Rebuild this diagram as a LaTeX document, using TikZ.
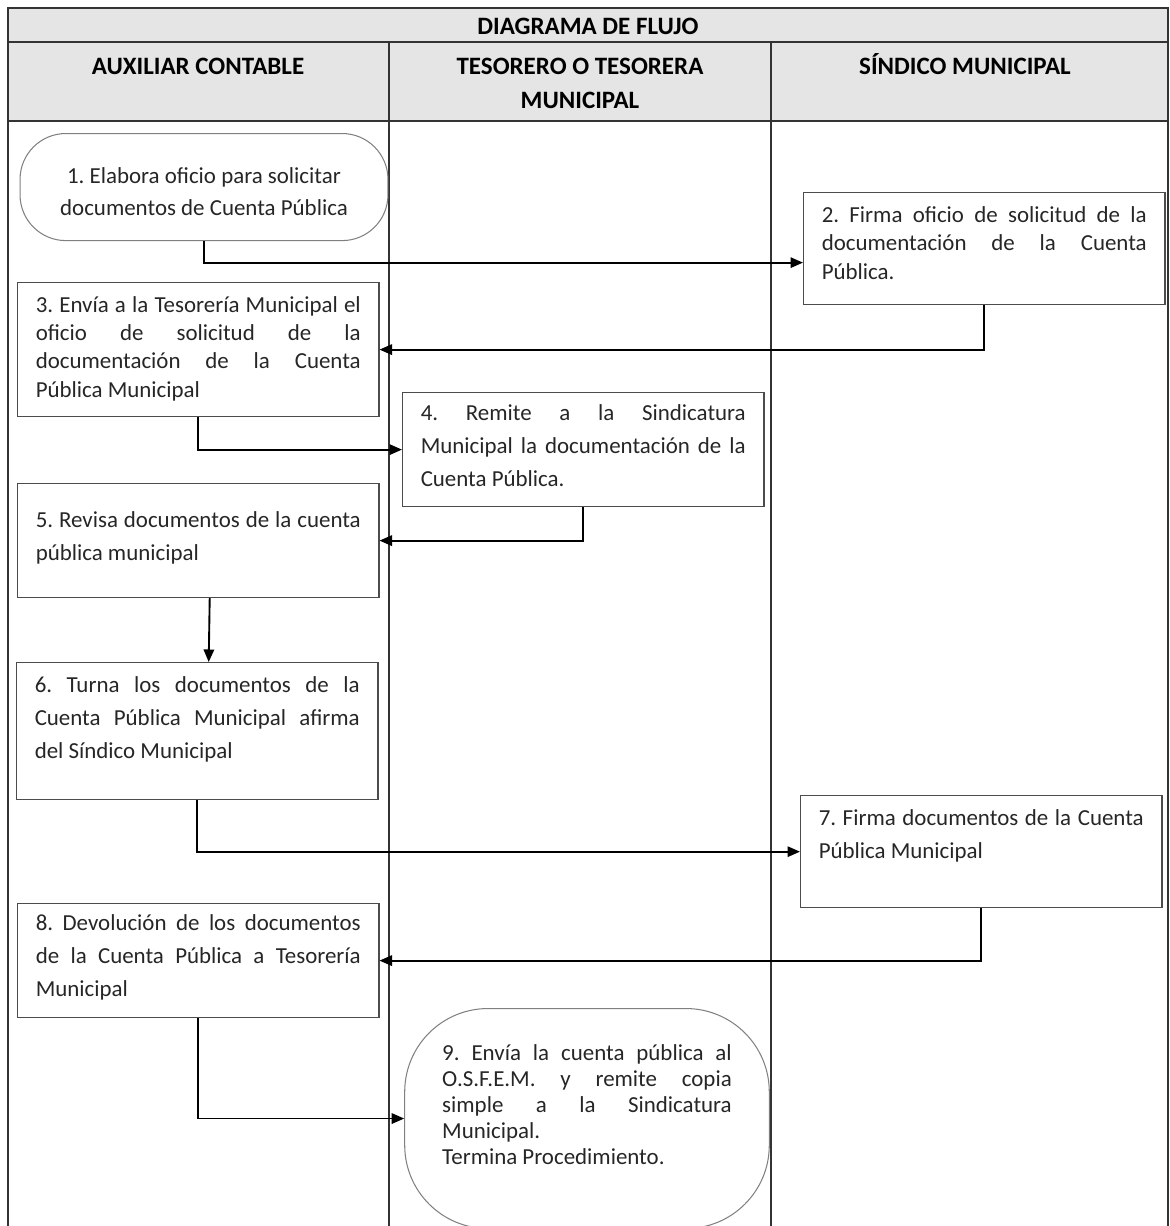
\documentclass[tikz,border=0pt]{standalone}
\usepackage{fontspec}
\setmainfont{Carlito}
\usetikzlibrary{arrows.meta}
\tolerance=9999
\hbadness=10000
\hyphenpenalty=10000
\frenchspacing

\begin{document}
\begin{tikzpicture}[x=0.48pt, y=-0.48pt,
  >={Triangle[length=6pt,width=5pt]},
  every node/.style={font=\fontsize{11}{15.8}\selectfont, text=black!85},
  pnode/.style={draw=black!70, line width=0.6pt, rectangle, anchor=north west,
    text width=156pt, inner xsep=8.7pt, inner ysep=0pt, align=justify},
  enode/.style={draw=black!50, line width=0.5pt, rectangle, anchor=north, inner ysep=0pt},
  hnode/.style={font=\bfseries\fontsize{12}{16.3}\selectfont, text=black, align=center},
  lane/.style={line width=0.7pt, black!80},
  every path/.style={line width=0.9pt}]

  \useasboundingbox (0,0) rectangle (1170,1226);

  \fill[black!10] (8,8) rectangle (1168,121);
  \draw[lane] (8,1226) -- (8,8) -- (1168,8) -- (1168,1226);
  \draw[lane] (8,42) -- (1168,42);
  \draw[lane] (8,121) -- (1168,121);
  \draw[lane] (389,42) -- (389,1226);
  \draw[lane] (771,42) -- (771,1226);

  \node (h0) [hnode] at (588,26) {DIAGRAMA DE FLUJO};
  \node (h1) [hnode] at (198,66) {AUXILIAR CONTABLE};
  \node (h2) [hnode] at (580,83) {TESORERO O TESORERA\\MUNICIPAL};
  \node (h3) [hnode] at (965,64) {SÍNDICO MUNICIPAL};

  \node (n1) [enode, rounded corners=22pt, text width=150pt, inner xsep=13.3pt,
    text height=23.8pt, text depth=27.6pt, align=flush center,
    font=\fontsize{11}{15.4}\selectfont] at (204,133)
    {1. Elabora oficio para solicitar\\documentos de Cuenta Pública};
  \node (n2) [pnode, text height=14.5pt, text depth=39.3pt,
    font=\fontsize{11}{13.5}\selectfont] at (803,192)
    {2. Firma oficio de solicitud de la\linebreak documentación de la Cuenta\linebreak Pública.};
  \node (n3) [pnode, text height=14.4pt, text depth=49.9pt,
    font=\fontsize{11}{13.5}\selectfont] at (17,282)
    {3. Envía a la Tesorería Municipal el\linebreak oficio de solicitud de la\linebreak documentación de la Cuenta\linebreak Pública Municipal};
  \node (n4) [pnode, text height=13.5pt, text depth=41.2pt] at (402,392)
    {4. Remite a la Sindicatura\linebreak Municipal la documentación de la\linebreak Cuenta Pública.};
  \node (n5) [pnode, text height=21.1pt, text depth=33.6pt] at (17,483)
    {5. Revisa documentos de la cuenta\linebreak pública municipal};
  \node (n6) [pnode, text height=14.5pt, text depth=51.3pt] at (16,662)
    {6. Turna los documentos de la\linebreak Cuenta Pública Municipal afirma\linebreak del Síndico Municipal};
  \node (n7) [pnode, text height=14.5pt, text depth=39.3pt] at (800,795)
    {7. Firma documentos de la Cuenta\linebreak Pública Municipal};
  \node (n8) [pnode, text height=13pt, text depth=41.7pt] at (17,903)
    {8. Devolución de los documentos\linebreak de la Cuenta Pública a Tesorería\linebreak Municipal};
  \node (n9) [enode, rounded corners=40pt, text width=139pt, inner xsep=18pt,
    text height=25pt, text depth=80.6pt, align=justify,
    font=\fontsize{11}{12.5}\selectfont] at (587,1008)
    {9. Envía la cuenta pública al\linebreak O.S.F.E.M. y remite copia\linebreak simple a la Sindicatura\linebreak Municipal.\\Termina Procedimiento.};

  \draw [->] (n1.south) |- ([yshift=-6.7pt]n2.west);
  \draw [->] (n2.south) |- (n3.east);
  \draw [->] (n3.south) |- (n4.west);
  \draw [->] (n4.south) |- (n5.east);
  \draw [->] ([xshift=5.5pt]n5.south) -- ([xshift=5.5pt]n6.north);
  \draw [->] (n6.south) |- (n7.west);
  \draw [->] (n7.south) |- (n8.east);
  \draw [->] (n8.south) |- (n9.west);
\end{tikzpicture}
\end{document}
